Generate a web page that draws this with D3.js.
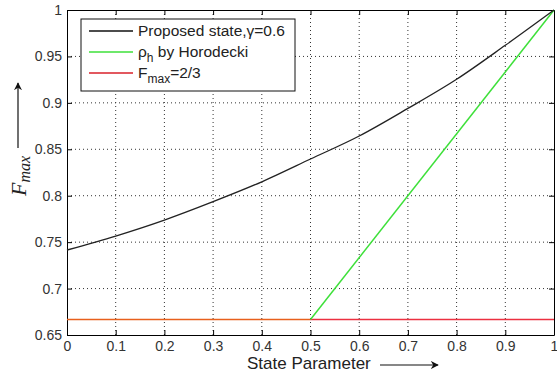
<!DOCTYPE html>
<html><head><meta charset="utf-8">
<script src="https://cdn.jsdelivr.net/npm/d3@7/dist/d3.min.js"></script>
<style>body{margin:0;background:#fff}svg{display:block}</style>
</head><body>
<script>
const xTicks = [0,0.1,0.2,0.3,0.4,0.5,0.6,0.7,0.8,0.9,1];
const yTicks = [0.65,0.7,0.75,0.8,0.85,0.9,0.95,1];
const xTickLabels = ["0","0.1","0.2","0.3","0.4","0.5","0.6","0.7","0.8","0.9","1"];
const yTickLabels = ["0.65","0.7","0.75","0.8","0.85","0.9","0.95","1"];
const proposedX = [0,0.1,0.2,0.3,0.4,0.5,0.6,0.7,0.8,0.9,1];
const proposedY = [0.7415,0.7566,0.7738,0.7936,0.815,0.8395,0.8643,0.894,0.9254,0.962,1.0];
const horodeckiX = [0.5,1];
const horodeckiY = [0.6667,1];
const fmaxX = [0,1];
const fmaxY = [0.6667,0.6667];
const legendLabels = ["Proposed state,γ=0.6","ρ|h| by Horodecki","F|max|=2/3"];

const W=557,H=381, L=67,R=554,T=10,B=335;
const svg=d3.select("body").append("svg").attr("width",W).attr("height",H);
const x=d3.scaleLinear().domain([0,1]).range([L,R]);
const y=d3.scaleLinear().domain([0.65,1]).range([B,T]);
const font="Liberation Sans, Arial, sans-serif";

// grid
const g=svg.append("g");
g.selectAll(".vx").data(xTicks.slice(1,-1)).enter().append("line")
 .attr("x1",d=>x(d)).attr("x2",d=>x(d)).attr("y1",T).attr("y2",B)
 .attr("stroke","#333").attr("stroke-width",1).attr("stroke-dasharray","1,3");
g.selectAll(".hy").data(yTicks.slice(1,-1)).enter().append("line")
 .attr("y1",d=>y(d)).attr("y2",d=>y(d)).attr("x1",L).attr("x2",R)
 .attr("stroke","#333").attr("stroke-width",1).attr("stroke-dasharray","1,3");

// axes
const xa=svg.append("g").attr("transform",`translate(0,${B})`)
 .call(d3.axisBottom(x).tickValues(xTicks).tickFormat((d,i)=>xTickLabels[i]).tickSizeInner(-5).tickSizeOuter(0).tickPadding(6));
const xt=svg.append("g").attr("transform",`translate(0,${T})`)
 .call(d3.axisTop(x).tickValues(xTicks).tickFormat("").tickSizeInner(-5).tickSizeOuter(0));
const ya=svg.append("g").attr("transform",`translate(${L},0)`)
 .call(d3.axisLeft(y).tickValues(yTicks).tickFormat((d,i)=>yTickLabels[i]).tickSizeInner(-5).tickSizeOuter(0).tickPadding(5));
const yr=svg.append("g").attr("transform",`translate(${R},0)`)
 .call(d3.axisRight(y).tickValues(yTicks).tickFormat("").tickSizeInner(-5).tickSizeOuter(0));
[xa,xt,ya,yr].forEach(a=>{a.selectAll("path").attr("stroke","#000");a.selectAll("line").attr("stroke","#000");
 a.selectAll("text").attr("font-family",font).attr("font-size",14).attr("fill","#333");});

// gradient for red line (orange where blended)
const defs=svg.append("defs");
const grad=defs.append("linearGradient").attr("id","rg").attr("gradientUnits","userSpaceOnUse")
 .attr("x1",x(0)).attr("x2",x(1)).attr("y1",0).attr("y2",0);
grad.append("stop").attr("offset","0%").attr("stop-color","#e8601c");
grad.append("stop").attr("offset","50%").attr("stop-color","#e8601c");
grad.append("stop").attr("offset","50%").attr("stop-color","#ec3040");
grad.append("stop").attr("offset","100%").attr("stop-color","#ec3040");

const line=d3.line().x(d=>x(d[0])).y(d=>y(d[1]));
svg.append("path").datum(fmaxX.map((v,i)=>[v,fmaxY[i]])).attr("d",line)
 .attr("fill","none").attr("stroke","url(#rg)").attr("stroke-width",1.6);
svg.append("path").datum(horodeckiX.map((v,i)=>[v,horodeckiY[i]])).attr("d",line)
 .attr("fill","none").attr("stroke","#3ee03a").attr("stroke-width",1.5);
svg.append("path").datum(proposedX.map((v,i)=>[v,proposedY[i]])).attr("d",line.curve(d3.curveMonotoneX))
 .attr("fill","none").attr("stroke","#222").attr("stroke-width",1.3);

// legend
const lg=svg.append("g");
lg.append("rect").attr("x",81).attr("y",19).attr("width",214).attr("height",72)
 .attr("fill","#fff").attr("stroke","#111").attr("stroke-width",1);
const lcolors=["#111","#3ee03a","#d8202a"];
legendLabels.forEach((lab,i)=>{
  const yy=31+i*21;
  lg.append("line").attr("x1",89).attr("x2",133).attr("y1",yy).attr("y2",yy)
    .attr("stroke",lcolors[i]).attr("stroke-width",1.3);
  const t=lg.append("text").attr("x",138).attr("y",yy+5).attr("font-family",font)
    .attr("font-size",15.5).attr("fill","#222");
  const parts=lab.split("|");
  t.append("tspan").text(parts[0]);
  if(parts.length>1){
    t.append("tspan").attr("dy",5).attr("font-size",12).text(parts[1]);
    t.append("tspan").attr("dy",-5).text(parts[2]);
  }
});

// x label + arrow
svg.append("text").attr("x",247).attr("y",369).attr("font-family",font).attr("font-size",17)
 .attr("fill","#222").text("State Parameter");
defs.append("marker").attr("id","ah").attr("viewBox","0 0 10 10").attr("refX",9).attr("refY",5)
 .attr("markerWidth",8).attr("markerHeight",8).attr("markerUnits","userSpaceOnUse").attr("orient","auto")
 .append("path").attr("d","M0,0 L10,5 L0,10 L3,5 Z").attr("fill","#111");
svg.append("line").attr("x1",380).attr("x2",438).attr("y1",365).attr("y2",365)
 .attr("stroke","#111").attr("stroke-width",1.2).attr("marker-end","url(#ah)");
// y label + arrow
svg.append("line").attr("x1",18).attr("x2",18).attr("y1",148).attr("y2",83)
 .attr("stroke","#111").attr("stroke-width",1.2).attr("marker-end","url(#ah)");
const yl=svg.append("text").attr("transform","translate(26,176) rotate(-90)").attr("text-anchor","middle")
 .attr("font-family","Liberation Serif, Times New Roman, serif").attr("font-style","italic")
 .attr("font-size",22).attr("fill","#222");
yl.append("tspan").text("F");
yl.append("tspan").attr("dy",4).attr("font-size",16).text("max");
</script>
</body></html>
